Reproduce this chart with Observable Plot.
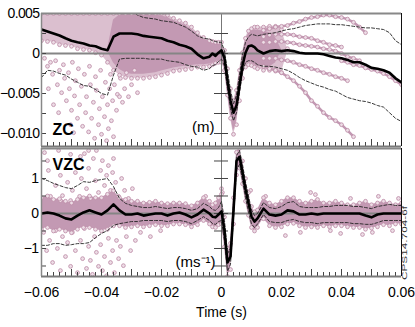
<!DOCTYPE html>
<html><head><meta charset="utf-8">
<script src="https://cdn.jsdelivr.net/npm/d3@7"></script>
<script src="https://cdn.jsdelivr.net/npm/@observablehq/plot@0.6"></script>
<style>
html,body{margin:0;padding:0;background:#fff;}
#chart{position:relative;width:415px;height:327px;overflow:hidden;background:#fff;}
#chart svg{position:absolute;left:0;}
#chart [aria-label="y-axis tick label"] text{letter-spacing:-0.6px;}
</style></head><body><div id="chart"></div>
<script>
// ---------- shared time grid (s) ----------
const time = [-0.060,-0.058,-0.056,-0.054,-0.052,-0.050,-0.048,-0.046,-0.044,-0.042,-0.040,-0.038,-0.036,-0.034,-0.032,-0.030,-0.028,-0.026,-0.024,-0.022,-0.020,-0.018,-0.016,-0.014,-0.012,-0.010,-0.008,-0.006,-0.004,
 -0.003,-0.002,-0.001,0,0.001,0.002,0.003,0.004,0.005,0.006,0.007,0.008,0.009,0.010,0.011,0.012,
 0.014,0.016,0.018,0.020,0.022,0.024,0.026,0.028,0.030,0.032,0.034,0.036,0.038,0.040,0.042,0.044,0.046,0.048,0.050,0.052,0.054,0.056,0.058,0.060];
const streamTime = [0.014,0.016,0.018,0.020,0.022,0.024,0.026,0.028,0.030,0.032,0.034,0.036,0.038,0.040,0.042,0.044,0.046,0.048,0.050,0.052,0.054,0.056,0.058,0.060];

// ---------- ZC (m) ----------
const zcMean = [0.0030,0.00275,0.0025,0.00225,0.0019,0.0016,0.0014,0.00125,0.0010,0.0009,0.0006,0.0004,0.0021,0.0025,0.0025,0.0025,0.0024,0.0022,0.0021,0.0020,0.0019,0.0016,0.0014,0.0011,0.0009,0.0006,-0.0001,-0.0006,-0.0004,
 0.0000,-0.0003,0.0001,0.0004,-0.0006,-0.0034,-0.0059,-0.0074,-0.0065,-0.0040,-0.0015,0.0001,0.0009,0.0010,0.0008,0.0004,
 0.0000,0.0003,0.0004,0.0003,0.0004,0.0003,0.0001,0.0000,0.0000,0.0000,-0.0001,-0.0003,-0.0005,-0.0006,-0.0008,-0.0011,-0.0011,-0.0014,-0.0018,-0.0019,-0.0021,-0.0024,-0.0031,-0.0036];
const zcUpper = [0.0065,0.0065,0.0065,0.0065,0.0065,0.0065,0.0065,0.0065,0.0065,0.0065,0.0065,0.0065,0.0065,0.0065,0.0065,0.0054,0.0048,0.0045,0.0044,0.0043,0.0041,0.0040,0.0039,0.0036,0.0033,0.0028,0.0022,0.0019,0.0018,
 0.0016,0.0015,0.0014,0.0014,0.0003,-0.0022,-0.0046,-0.0063,-0.0052,-0.0026,-0.0002,0.0014,0.0021,0.0024,0.0023,0.0022,
 0.0024,0.0025,0.0026,0.0028,0.0030,0.0031,0.0033,0.0035,0.0036,0.0037,0.0037,0.0037,0.0036,0.0036,0.0035,0.0034,0.0033,0.0032,0.0032,0.0031,0.0030,0.0026,0.0016,0.0011];
const zcLower = [-0.0030,-0.0021,-0.0022,-0.0025,-0.0027,-0.0032,-0.0036,-0.0040,-0.0041,-0.0045,-0.0050,-0.0052,-0.0027,-0.0007,-0.0006,-0.0006,-0.0006,-0.0006,-0.0007,-0.0007,-0.0007,-0.0009,-0.0010,-0.0011,-0.0014,-0.0016,-0.0017,-0.0021,-0.0019,
 -0.0015,-0.0014,-0.0010,-0.0007,-0.0016,-0.0044,-0.0069,-0.0084,-0.0074,-0.0049,-0.0024,-0.0011,-0.0009,-0.0009,-0.0011,-0.0014,
 -0.0016,-0.0016,-0.0017,-0.0019,-0.0021,-0.0025,-0.0030,-0.0034,-0.0037,-0.0040,-0.0042,-0.0045,-0.0047,-0.0051,-0.0055,-0.0057,-0.0059,-0.0060,-0.0062,-0.0065,-0.0067,-0.0074,-0.0081,-0.0085];
// outer envelope of the scatter (lighter)
const zcBandHi = [0.0050,0.0050,0.0050,0.0050,0.0050,0.0050,0.0050,0.0050,0.0050,0.0050,0.0050,0.0050,0.0050,0.0050,0.0050,0.0050,0.0050,0.0050,0.0050,0.0050,0.0050,0.0048,0.0044,0.0041,0.0038,0.0033,0.0026,0.0020,0.0016,
 0.0015,0.0014,0.0014,0.0014,0.0004,-0.0019,-0.0044,-0.0059,-0.0046,-0.0021,0.0001,0.0019,0.0028,0.0031,0.0033,0.0033,
 0.0033,0.0034,0.0034,0.0030,0.0006,null,null,null,null,null,null,null,null,null,null,null,null,null,null,null,null,null,null,null];
const zcBandLo = [0.0016,0.0015,0.0014,0.0011,0.0010,0.0009,0.0006,0.0005,0.0004,0.0001,-0.0002,-0.0011,-0.0021,-0.0027,-0.0030,-0.0031,-0.0031,-0.0031,-0.0030,-0.0029,-0.0027,-0.0025,-0.0022,-0.0021,-0.0020,-0.0019,-0.0017,-0.0017,-0.0016,
 -0.0014,-0.0012,-0.0011,-0.0011,-0.0021,-0.0052,-0.0081,-0.0101,-0.0089,-0.0059,-0.0031,-0.0017,-0.0014,-0.0015,-0.0017,-0.0019,
 -0.0021,-0.0021,-0.0022,-0.0024,0.0002,null,null,null,null,null,null,null,null,null,null,null,null,null,null,null,null,null,null,null];
// dense core of the scatter (darker)
const zcCoreHi = [null,null,null,null,null,null,null,null,null,null,null,0.0005,0.0042,0.0048,0.0050,0.0050,0.0050,0.0050,0.0049,0.0048,0.0047,0.0045,0.0041,0.0038,0.0035,0.0030,0.0024,0.0018,0.0015,
 0.0014,0.0013,0.0013,0.0013,0.0003,-0.0021,-0.0047,-0.0062,-0.0050,-0.0025,-0.0001,0.0016,0.0025,0.0028,0.0029,0.0029,
 0.0028,0.0026,0.0020,0.0005,null,null,null,null,null,null,null,null,null,null,null,null,null,null,null,null,null,null,null,null];
const zcCoreLo = [null,null,null,null,null,null,null,null,null,null,null,0.0003,-0.0012,-0.0020,-0.0024,-0.0026,-0.0026,-0.0026,-0.0025,-0.0024,-0.0022,-0.0020,-0.0018,-0.0017,-0.0016,-0.0015,-0.0014,-0.0014,-0.0013,
 -0.0012,-0.0010,-0.0009,-0.0009,-0.0018,-0.0049,-0.0077,-0.0097,-0.0085,-0.0055,-0.0028,-0.0014,-0.0011,-0.0012,-0.0014,-0.0016,
 -0.0017,-0.0017,-0.0012,0.0003,null,null,null,null,null,null,null,null,null,null,null,null,null,null,null,null,null,null,null,null];
const zcStreamA = [0.0029,0.0031,0.0033,0.0034,0.0035,0.0038,0.0040,0.0043,0.0045,0.0046,0.0048,0.0048,0.0046,0.0045,0.0043,0.0039,0.0033,0.0026,null,null,null,null,null,null];
const zcStreamB = [0.0021,0.0023,0.0024,0.0024,0.0024,0.0023,0.0021,0.0020,0.0019,0.0016,0.0014,0.0011,0.0010,0.0008,null,null,null,null,null,null,null,null,null,null];
const zcStreamC = [0.0014,0.0014,0.0015,0.0015,0.0014,0.0013,0.0011,0.0010,0.0009,0.0008,0.0006,0.0005,0.0003,0.0000,-0.0004,-0.0006,-0.0009,null,null,null,null,null,null,null];
const zcStreamD = [-0.0006,-0.0006,-0.0006,-0.0008,-0.0009,-0.0011,-0.0014,-0.0016,-0.0019,-0.0021,-0.0024,-0.0026,-0.0029,-0.0031,-0.0034,null,null,null,null,null,null,null,null,null];
const zcStreamE = [null,null,null,null,null,null,null,null,null,null,null,null,null,-0.0009,-0.0011,-0.0014,-0.0015,-0.0018,-0.0020,-0.0022,-0.0025,-0.0029,-0.0034,-0.0039];
const zcStreamF = [-0.0016,-0.0019,-0.0021,-0.0024,-0.0029,-0.0034,-0.0041,-0.0049,-0.0059,-0.0066,-0.0074,-0.0080,-0.0084,-0.0089,-0.0096,-0.0104,null,null,null,null,null,null,null,null];
const zcScatterT = [-0.0590,-0.0580,-0.0570,-0.0563,-0.0553,-0.0547,-0.0540,-0.0533,-0.0527,-0.0523,-0.0517,-0.0510,-0.0507,-0.0500,-0.0497,-0.0490,-0.0487,-0.0480,-0.0477,-0.0473,-0.0467,-0.0463,-0.0457,-0.0453,-0.0450,-0.0443,-0.0440,-0.0437,-0.0433,-0.0427,-0.0423,-0.0420,-0.0417,-0.0410,-0.0407,-0.0403,-0.0400,-0.0397,-0.0390,-0.0387,-0.0383,-0.0380,-0.0377,-0.0373,-0.0370,-0.0367,-0.0363,-0.0360,-0.0357,-0.0350,-0.0347,-0.0340,-0.0337,-0.0330,-0.0323,-0.0317,-0.0310,-0.0300,-0.0290,-0.0280,-0.0543,-0.0503,-0.0493,-0.0577,-0.0560];
const zcScatterV = [-0.0006,-0.0016,-0.0011,-0.0026,-0.0009,-0.0039,-0.0021,-0.0049,-0.0014,-0.0031,-0.0059,-0.0024,-0.0044,-0.0071,-0.0011,-0.0053,-0.0034,-0.0081,-0.0019,-0.0064,-0.0041,-0.0091,-0.0026,-0.0074,-0.0054,-0.0098,-0.0016,-0.0039,-0.0081,-0.0061,-0.0106,-0.0029,-0.0046,-0.0089,-0.0069,-0.0021,-0.0101,-0.0054,-0.0079,-0.0036,-0.0109,-0.0064,-0.0094,-0.0044,-0.0026,-0.0084,-0.0059,-0.0104,-0.0039,-0.0071,-0.0051,-0.0054,-0.0031,-0.0061,-0.0044,-0.0024,-0.0054,-0.0039,-0.0021,-0.0049,-0.0074,-0.0089,-0.0099,-0.0044,-0.0064];
const zcTickLabels = [-0.010,-0.005,0,0.005];
const zcTickMarks = [-0.010,-0.0075,-0.005,-0.0025,0,0.0025,0.005];

// ---------- VZC (m/s) ----------
const vzcMean = [0.00,0.03,0.00,-0.06,-0.14,-0.17,-0.06,0.03,0.09,0.03,-0.03,0.09,0.26,0.09,-0.03,-0.03,0.00,-0.06,-0.03,0.00,0.00,-0.06,0.00,0.03,-0.03,-0.11,-0.03,0.11,0.00,
 -0.09,-0.11,-0.03,0.06,-0.49,-1.40,-1.23,0.09,1.50,1.62,1.17,0.69,0.29,-0.09,-0.23,-0.14,
 0.14,-0.03,-0.06,-0.03,0.09,0.06,-0.03,-0.03,0.00,-0.03,0.00,0.00,0.00,0.00,0.00,0.00,0.00,-0.06,-0.11,-0.03,0.00,0.00,0.00,0.00];
const vzcUpper = [1.00,0.94,0.86,0.80,0.74,0.71,0.80,0.91,0.89,0.94,0.97,1.00,0.77,0.43,0.29,0.23,0.20,0.17,0.17,0.20,0.17,0.14,0.17,0.17,0.14,0.09,0.14,0.29,0.20,
 0.11,0.09,0.17,0.34,-0.20,-1.15,-1.00,0.30,1.65,1.80,1.40,0.90,0.50,0.10,-0.06,0.00,
 0.31,0.17,0.14,0.20,0.31,0.34,0.20,0.17,0.17,0.17,0.20,0.20,0.23,0.23,0.23,0.20,0.20,0.17,0.14,0.20,0.23,0.26,0.23,0.23];
const vzcLower = [-0.91,-0.91,-0.86,-0.86,-0.91,-0.89,-0.86,-0.86,-0.83,-0.69,-0.57,-0.49,-0.34,-0.29,-0.26,-0.23,-0.23,-0.20,-0.20,-0.20,-0.20,-0.23,-0.20,-0.20,-0.23,-0.29,-0.20,-0.09,-0.20,
 -0.29,-0.31,-0.23,-0.20,-0.80,-1.65,-1.45,-0.15,1.25,1.40,0.95,0.45,0.05,-0.30,-0.40,-0.30,
 -0.03,-0.23,-0.26,-0.26,-0.20,-0.17,-0.23,-0.26,-0.26,-0.29,-0.26,-0.26,-0.26,-0.26,-0.26,-0.29,-0.29,-0.31,-0.31,-0.26,-0.20,-0.20,-0.20,-0.20];
const vzcBandHi = [0.45,0.50,0.40,0.42,0.35,0.30,0.40,0.45,0.50,0.45,0.45,0.55,0.65,0.45,0.40,0.35,0.35,0.30,0.32,0.35,0.30,0.28,0.30,0.30,0.28,0.22,0.30,0.45,0.35,
 0.25,0.30,0.45,0.55,-0.10,-1.00,-0.85,0.45,1.75,1.86,1.50,1.00,0.60,0.20,0.05,0.10,
 0.45,0.30,0.25,0.35,0.45,0.45,0.35,0.30,0.35,0.40,0.30,0.30,0.35,0.30,0.25,0.25,0.30,0.35,0.25,0.30,0.35,0.30,0.25,0.30];
const vzcBandLo = [-0.45,-0.40,-0.50,-0.45,-0.50,-0.55,-0.45,-0.40,-0.40,-0.45,-0.50,-0.45,-0.35,-0.35,-0.40,-0.38,-0.35,-0.38,-0.35,-0.32,-0.35,-0.35,-0.30,-0.30,-0.32,-0.38,-0.32,-0.20,-0.30,
 -0.38,-0.40,-0.32,-0.30,-0.95,-1.80,-1.60,-0.30,1.10,1.30,0.85,0.35,-0.05,-0.40,-0.50,-0.40,
 -0.15,-0.35,-0.40,-0.38,-0.30,-0.28,-0.35,-0.40,-0.38,-0.40,-0.35,-0.38,-0.35,-0.35,-0.38,-0.40,-0.40,-0.45,-0.42,-0.38,-0.32,-0.35,-0.30,-0.30];
const vzcScatterT = [-0.0590,-0.0577,-0.0580,-0.0553,-0.0543,-0.0537,-0.0530,-0.0513,-0.0503,-0.0497,-0.0487,-0.0470,-0.0473,-0.0467,-0.0457,-0.0450,-0.0443,-0.0437,-0.0427,-0.0420,-0.0410,-0.0403,-0.0397,-0.0390,-0.0383,-0.0377,-0.0370,-0.0363,-0.0353,-0.0343,-0.0333,-0.0323,-0.0310,-0.0297,-0.0537,-0.0503,-0.0570,-0.0417,-0.0360,-0.0443,
 -0.0593,-0.0583,-0.0573,-0.0563,-0.0553,-0.0547,-0.0537,-0.0530,-0.0520,-0.0513,-0.0503,-0.0497,-0.0487,-0.0480,-0.0470,-0.0463,-0.0457,-0.0450,-0.0443,-0.0437,-0.0430,-0.0423,-0.0417,-0.0410,-0.0403,-0.0397,-0.0390,-0.0383,-0.0377,-0.0370,-0.0363,-0.0357,-0.0350,-0.0343,-0.0337,-0.0327,-0.0317,-0.0303,-0.0287,-0.0270,-0.0237,-0.0203,
 -0.0053,0.0003,0.0000,0.0097,0.0147,0.0213,0.0263,0.0297,0.0313,0.0363,0.0397,0.0430,0.0470,0.0503,0.0523,0.0570,0.0590];
const vzcScatterV = [1.74,1.23,1.51,0.80,1.80,1.09,0.51,0.89,1.69,0.66,1.17,1.63,0.49,1.00,1.71,0.71,1.29,0.43,1.57,0.94,0.60,1.23,1.51,0.80,1.09,1.37,0.66,1.17,0.89,0.49,1.00,0.66,0.43,0.71,0.37,0.37,0.49,1.80,1.57,1.80,
 -0.54,-1.06,-0.77,-1.40,-0.49,-1.00,-1.63,-0.66,-1.23,-0.83,-1.51,-0.54,-1.06,-1.69,-0.77,-1.29,-0.43,-1.57,-0.94,-1.34,-1.74,-0.66,-1.11,-1.51,-0.89,-1.63,-1.23,-1.78,-0.71,-1.40,-1.06,-1.69,-0.77,-1.29,-0.94,-1.49,-0.66,-1.06,-0.77,-0.54,-0.66,-0.49,
 0.49,0.60,0.71,0.66,0.49,-0.63,-0.54,0.60,0.54,-0.49,-0.57,0.43,-0.60,-0.54,0.49,-0.49,0.43];
const vzcTickLabels = [-1,0,1];
const vzcTickMarks = [-1.5,-1,-0.5,0,0.5,1,1.5];

const xTickLabels = [-0.06,-0.04,-0.02,0,0.02,0.04,0.06];
const xMajorTicks = [-0.05,-0.04,-0.03,-0.02,-0.01,0,0.01,0.02,0.03,0.04,0.05];
const xMinorTicks = d3.range(-58, 60, 2).map(d => d / 1000);

// ---------- styling ----------
const font = "'Liberation Sans',Arial,sans-serif";
const dotStroke = "#bb89a5", dotFill = "#eddde6", outerFill = "#dbbfcf", coreFill = "#c399b3";
const tickColor = "#444";

function table(mean, up, lo, hi, blo, chi, clo) {
  return time.map((t, i) => ({t, mean: mean[i], up: up[i], lo: lo[i], hi: hi[i], blo: blo[i],
    chi: chi ? chi[i] : null, clo: clo ? clo[i] : null}));
}
function streams(list) {
  return list.flatMap((s, k) => streamTime.map((t, i) => ({t, v: s[i], k})));
}
const zcRows = table(zcMean, zcUpper, zcLower, zcBandHi, zcBandLo, zcCoreHi, zcCoreLo);
const vzcRows = table(vzcMean, vzcUpper, vzcLower, vzcBandHi, vzcBandLo);
const zcStreamRows = streams([zcStreamA, zcStreamB, zcStreamC, zcStreamD, zcStreamE, zcStreamF]);
const zcScatter = zcScatterT.map((t, i) => ({t, v: zcScatterV[i]}));
const vzcScatter = vzcScatterT.map((t, i) => ({t, v: vzcScatterV[i]}));

const dotOpts = {r: 1.9, stroke: dotStroke, fill: dotFill, strokeWidth: 0.8, clip: true};
const fmtZ = d => d === 0 ? "0" : d3.format(".3f")(d);
const fmtV = d => d === 0 ? "0" : d3.format("d")(d);
const fmtX = d => d === 0 ? "0" : d3.format(".2f")(d);

function panelMarks(rows, yTop, yBot, ticks) {
  return [
    Plot.ruleY([0], {stroke: "#858585", strokeWidth: 2}),
    Plot.ruleX([0], {stroke: "#777", strokeWidth: 1}),
    Plot.tickY(ticks, {y: d => d, insetLeft: 173, insetRight: 173, stroke: tickColor}),
    Plot.tickY(ticks, {y: d => d, insetRight: 355, stroke: tickColor}),
    Plot.line(rows, {x: "t", y: "up", stroke: "#222", strokeWidth: 0.9, strokeDasharray: "3,2", clip: true}),
    Plot.line(rows, {x: "t", y: "lo", stroke: "#222", strokeWidth: 0.9, strokeDasharray: "3,2", clip: true}),
    Plot.line(rows, {x: "t", y: "mean", stroke: "#000", strokeWidth: 2.6, clip: true}),
    Plot.ruleY([yTop], {stroke: "#888", strokeWidth: 2}),
    Plot.ruleY([yBot], {stroke: "#7a7a7a", strokeWidth: 2}),
    Plot.ruleX([-0.06], {stroke: "#888", strokeWidth: 1.5}),
    Plot.ruleX([0.06], {stroke: "#111", strokeWidth: 1})
  ];
}
const labelFont = {fontSize: 14};

// ---------- top panel ----------
const zTop = 0.005, zBot = -0.011625;
const topPlot = Plot.plot({
  width: 415, height: 147,
  marginLeft: 41, marginRight: 14, marginTop: 13, marginBottom: 1,
  x: {domain: [-0.06, 0.06], axis: null},
  y: {domain: [zBot, zTop]},
  style: {background: "transparent", fontFamily: font, overflow: "visible"},
  marks: [
    Plot.areaY(zcRows, {x: "t", y1: "blo", y2: "hi", fill: outerFill, clip: true}),
    Plot.areaY(zcRows, {x: "t", y1: "clo", y2: "chi", fill: coreFill, clip: true}),
    Plot.line(zcStreamRows, {x: "t", y: "v", z: "k", stroke: coreFill, strokeWidth: 2.5, clip: true}),
    Plot.dot(zcScatter, {x: "t", y: "v", ...dotOpts}),
    Plot.dot(zcRows.filter(d => d.hi != null), {x: "t", y: "hi", ...dotOpts}),
    Plot.dot(zcRows.filter(d => d.blo != null), {x: "t", y: "blo", ...dotOpts}),
    Plot.dot(zcStreamRows.filter(d => d.v != null), {x: "t", y: "v", ...dotOpts}),
    Plot.tickX(xMinorTicks, {x: d => d, insetTop: 129, stroke: tickColor}),
    Plot.tickX(xMajorTicks, {x: d => d, insetTop: 126, stroke: tickColor}),
    ...panelMarks(zcRows, zTop, zBot, zcTickMarks),
    Plot.axisY({ticks: zcTickLabels, tickSize: 0, tickPadding: 2, tickFormat: fmtZ, ...labelFont}),
    Plot.text(["ZC"], {text: d => d, frameAnchor: "bottom-left", dx: 11, dy: -17, lineAnchor: "middle", textAnchor: "start", fontWeight: "bold", fontSize: 16}),
    Plot.text(["(m)"], {text: d => d, frameAnchor: "bottom", dx: -7, dy: -19, lineAnchor: "middle", textAnchor: "end", fontSize: 15})
  ]
});

// ---------- bottom panel ----------
const vTop = 1.857, vBot = -1.8;
const botPlot = Plot.plot({
  width: 415, height: 180,
  marginLeft: 41, marginRight: 14, marginTop: 1, marginBottom: 51,
  x: {domain: [-0.06, 0.06]},
  y: {domain: [vBot, vTop]},
  style: {background: "transparent", fontFamily: font, overflow: "visible"},
  marks: [
    Plot.areaY(vzcRows, {x: "t", y1: "blo", y2: "hi", fill: coreFill, clip: true}),
    Plot.dot(vzcScatter, {x: "t", y: "v", ...dotOpts}),
    Plot.dot(vzcRows, {x: "t", y: "hi", ...dotOpts}),
    Plot.dot(vzcRows, {x: "t", y: "blo", ...dotOpts}),
    Plot.tickX(xMinorTicks, {x: d => d, insetTop: 124, stroke: tickColor}),
    Plot.tickX(xMajorTicks, {x: d => d, insetTop: 121, stroke: tickColor}),
    ...panelMarks(vzcRows, vTop, vBot, vzcTickMarks),
    Plot.axisY({ticks: vzcTickLabels, tickSize: 0, tickPadding: 3, tickFormat: fmtV, ...labelFont}),
    Plot.axisX({ticks: xTickLabels, tickSize: 0, tickPadding: 11, tickFormat: fmtX, ...labelFont, label: null}),
    Plot.text(["Time (s)"], {text: d => d, frameAnchor: "bottom", dy: 36, lineAnchor: "middle", fontSize: 14}),
    Plot.text(["VZC"], {text: d => d, frameAnchor: "top-left", dx: 11, dy: 16, lineAnchor: "middle", textAnchor: "start", fontWeight: "bold", fontSize: 16}),
    Plot.text(["(ms⁻¹)"], {text: d => d, frameAnchor: "bottom", dx: -6, dy: -14, lineAnchor: "middle", textAnchor: "end", fontSize: 15})
  ]
});

topPlot.style.top = "0px";
botPlot.style.top = "147px";
d3.select(botPlot).append("text")
  .attr("transform", "translate(405,96) rotate(-90)")
  .attr("text-anchor", "middle").attr("dominant-baseline", "middle")
  .attr("font-size", 8).attr("fill", "#333")
  .attr("font-family", "'Liberation Sans',Arial,sans-serif")
  .attr("textLength", 74).attr("lengthAdjust", "spacingAndGlyphs")
  .text("CPS14.704-6f");
const chart = document.getElementById("chart");
chart.appendChild(topPlot);
chart.appendChild(botPlot);
</script></body></html>
